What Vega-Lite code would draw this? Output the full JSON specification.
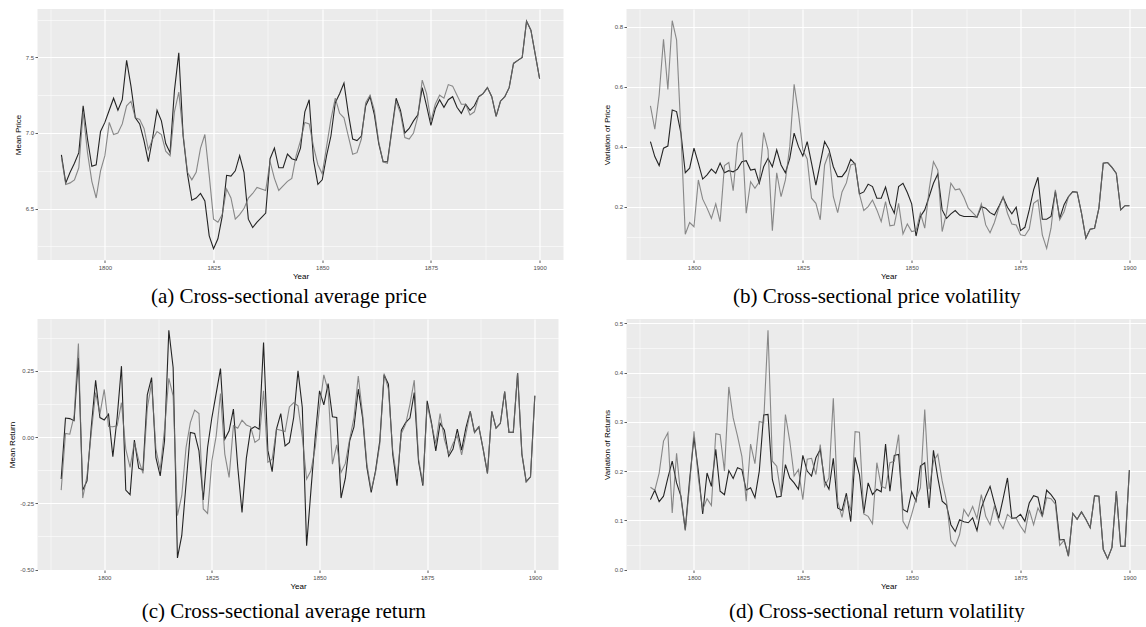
{
"$schema": "https://vega.github.io/schema/vega-lite/v6.json",
"background": "white",
"padding": {"left": 8.5, "top": 9, "right": 0, "bottom": 0},
"config": {
  "view": {"fill": "#EBEBEB", "stroke": null},
  "axis": {"domain": false, "minExtent": 0, "labelFont": "Liberation Sans", "labelFontSize": 6, "labelColor": "#4D4D4D", "tickColor": "#333333", "tickSize": 2.5, "tickWidth": 0.8, "labelPadding": 1.5, "titleFont": "Liberation Sans", "titleFontSize": 8, "titleFontWeight": "normal", "titleColor": "#000000", "gridColor": "#FFFFFF", "gridWidth": 1.1, "gridOpacity": 1},
  "axisX": {"titlePadding": 2},
  "axisY": {"titlePadding": 3},
  "title": {"orient": "bottom", "anchor": "middle", "frame": "bounds", "font": "Liberation Serif", "fontSize": 21, "fontWeight": "normal", "color": "#000000", "offset": 6}
},
"data": {"values": [
{"Year":1790,"s":"A","p":6.855,"pv":0.418,"r":-0.158,"rv":0.142},{"Year":1790,"s":"B","p":6.84,"pv":0.537,"r":-0.20,"rv":0.167},
{"Year":1791,"s":"A","p":6.67,"pv":0.368,"r":0.072,"rv":0.161},{"Year":1791,"s":"B","p":6.66,"pv":0.459,"r":0.014,"rv":0.161},
{"Year":1792,"s":"A","p":6.74,"pv":0.338,"r":0.07,"rv":0.138},{"Year":1792,"s":"B","p":6.67,"pv":0.573,"r":0.011,"rv":0.196},
{"Year":1793,"s":"A","p":6.80,"pv":0.396,"r":0.062,"rv":0.149},{"Year":1793,"s":"B","p":6.69,"pv":0.759,"r":0.08,"rv":0.261},
{"Year":1794,"s":"A","p":6.87,"pv":0.403,"r":0.30,"rv":0.186},{"Year":1794,"s":"B","p":6.77,"pv":0.592,"r":0.353,"rv":0.278},
{"Year":1795,"s":"A","p":7.18,"pv":0.523,"r":-0.20,"rv":0.22},{"Year":1795,"s":"B","p":7.14,"pv":0.821,"r":-0.23,"rv":0.115},
{"Year":1796,"s":"A","p":6.96,"pv":0.518,"r":-0.165,"rv":0.176},{"Year":1796,"s":"B","p":6.87,"pv":0.757,"r":-0.146,"rv":0.236},
{"Year":1797,"s":"A","p":6.78,"pv":0.446,"r":0.04,"rv":0.149},{"Year":1797,"s":"B","p":6.68,"pv":0.45,"r":0.018,"rv":0.146},
{"Year":1798,"s":"A","p":6.79,"pv":0.314,"r":0.215,"rv":0.081},{"Year":1798,"s":"B","p":6.57,"pv":0.109,"r":0.168,"rv":0.079},
{"Year":1799,"s":"A","p":7.01,"pv":0.329,"r":0.074,"rv":0.183},{"Year":1799,"s":"B","p":6.75,"pv":0.148,"r":0.087,"rv":0.173},
{"Year":1800,"s":"A","p":7.07,"pv":0.396,"r":0.065,"rv":0.268},{"Year":1800,"s":"B","p":6.85,"pv":0.134,"r":0.18,"rv":0.281},
{"Year":1801,"s":"A","p":7.15,"pv":0.346,"r":0.087,"rv":0.2},{"Year":1801,"s":"B","p":7.07,"pv":0.29,"r":0.04,"rv":0.186},
{"Year":1802,"s":"A","p":7.23,"pv":0.293,"r":-0.074,"rv":0.113},{"Year":1802,"s":"B","p":6.99,"pv":0.226,"r":0.039,"rv":0.122},
{"Year":1803,"s":"A","p":7.15,"pv":0.307,"r":0.074,"rv":0.196},{"Year":1803,"s":"B","p":7.00,"pv":0.196,"r":0.043,"rv":0.144},
{"Year":1804,"s":"A","p":7.22,"pv":0.326,"r":0.268,"rv":0.169},{"Year":1804,"s":"B","p":7.06,"pv":0.162,"r":0.13,"rv":0.13},
{"Year":1805,"s":"A","p":7.48,"pv":0.312,"r":-0.20,"rv":0.244},{"Year":1805,"s":"B","p":7.18,"pv":0.21,"r":-0.045,"rv":0.276},
{"Year":1806,"s":"A","p":7.31,"pv":0.346,"r":-0.217,"rv":0.159},{"Year":1806,"s":"B","p":7.21,"pv":0.151,"r":-0.114,"rv":0.274},
{"Year":1807,"s":"A","p":7.10,"pv":0.314,"r":-0.011,"rv":0.152},{"Year":1807,"s":"B","p":7.10,"pv":0.338,"r":-0.02,"rv":0.2},
{"Year":1808,"s":"A","p":7.06,"pv":0.321,"r":-0.117,"rv":0.201},{"Year":1808,"s":"B","p":7.09,"pv":0.348,"r":-0.087,"rv":0.371},
{"Year":1809,"s":"A","p":6.95,"pv":0.317,"r":-0.124,"rv":0.185},{"Year":1809,"s":"B","p":7.03,"pv":0.254,"r":-0.137,"rv":0.308},
{"Year":1810,"s":"A","p":6.81,"pv":0.326,"r":0.16,"rv":0.207},{"Year":1810,"s":"B","p":6.89,"pv":0.412,"r":0.109,"rv":0.271},
{"Year":1811,"s":"A","p":6.97,"pv":0.351,"r":0.225,"rv":0.203},{"Year":1811,"s":"B","p":6.96,"pv":0.448,"r":0.206,"rv":0.23},
{"Year":1812,"s":"A","p":7.15,"pv":0.354,"r":-0.077,"rv":0.161},{"Year":1812,"s":"B","p":7.01,"pv":0.179,"r":-0.045,"rv":0.139},
{"Year":1813,"s":"A","p":7.08,"pv":0.323,"r":-0.146,"rv":0.166},{"Year":1813,"s":"B","p":6.99,"pv":0.284,"r":-0.124,"rv":0.255},
{"Year":1814,"s":"A","p":6.93,"pv":0.326,"r":-0.014,"rv":0.146},{"Year":1814,"s":"B","p":6.88,"pv":0.262,"r":0.03,"rv":0.215},
{"Year":1815,"s":"A","p":6.87,"pv":0.279,"r":0.403,"rv":0.2},{"Year":1815,"s":"B","p":6.85,"pv":0.284,"r":0.222,"rv":0.301},
{"Year":1816,"s":"A","p":7.28,"pv":0.334,"r":0.263,"rv":0.314},{"Year":1816,"s":"B","p":7.14,"pv":0.448,"r":0.156,"rv":0.298},
{"Year":1817,"s":"A","p":7.53,"pv":0.362,"r":-0.456,"rv":0.315},{"Year":1817,"s":"B","p":7.27,"pv":0.39,"r":-0.296,"rv":0.486},
{"Year":1818,"s":"A","p":6.98,"pv":0.334,"r":-0.372,"rv":0.183},{"Year":1818,"s":"B","p":6.99,"pv":0.121,"r":-0.221,"rv":0.22},
{"Year":1819,"s":"A","p":6.73,"pv":0.39,"r":-0.177,"rv":0.147},{"Year":1819,"s":"B","p":6.74,"pv":0.314,"r":-0.039,"rv":0.21},
{"Year":1820,"s":"A","p":6.555,"pv":0.34,"r":0.018,"rv":0.149},{"Year":1820,"s":"B","p":6.69,"pv":0.234,"r":0.055,"rv":0.152},
{"Year":1821,"s":"A","p":6.57,"pv":0.314,"r":0.014,"rv":0.213},{"Year":1821,"s":"B","p":6.74,"pv":0.29,"r":0.102,"rv":0.315},
{"Year":1822,"s":"A","p":6.60,"pv":0.362,"r":-0.052,"rv":0.186},{"Year":1822,"s":"B","p":6.90,"pv":0.401,"r":0.089,"rv":0.261},
{"Year":1823,"s":"A","p":6.55,"pv":0.446,"r":-0.237,"rv":0.176},{"Year":1823,"s":"B","p":6.99,"pv":0.609,"r":-0.271,"rv":0.19},
{"Year":1824,"s":"A","p":6.32,"pv":0.401,"r":-0.039,"rv":0.163},{"Year":1824,"s":"B","p":6.72,"pv":0.512,"r":-0.288,"rv":0.203},
{"Year":1825,"s":"A","p":6.235,"pv":0.37,"r":0.074,"rv":0.232},{"Year":1825,"s":"B","p":6.43,"pv":0.39,"r":-0.089,"rv":0.142},
{"Year":1826,"s":"A","p":6.30,"pv":0.418,"r":0.165,"rv":0.2},{"Year":1826,"s":"B","p":6.41,"pv":0.36,"r":0.005,"rv":0.224},
{"Year":1827,"s":"A","p":6.45,"pv":0.346,"r":0.259,"rv":0.19},{"Year":1827,"s":"B","p":6.46,"pv":0.229,"r":0.165,"rv":0.226},
{"Year":1828,"s":"A","p":6.72,"pv":0.273,"r":-0.008,"rv":0.227},{"Year":1828,"s":"B","p":6.63,"pv":0.212,"r":-0.064,"rv":0.193},
{"Year":1829,"s":"A","p":6.715,"pv":0.346,"r":0.024,"rv":0.244},{"Year":1829,"s":"B","p":6.57,"pv":0.157,"r":-0.152,"rv":0.254},
{"Year":1830,"s":"A","p":6.75,"pv":0.418,"r":0.106,"rv":0.18},{"Year":1830,"s":"B","p":6.43,"pv":0.34,"r":0.043,"rv":0.169},
{"Year":1831,"s":"A","p":6.85,"pv":0.392,"r":-0.112,"rv":0.163},{"Year":1831,"s":"B","p":6.46,"pv":0.38,"r":0.034,"rv":0.186},
{"Year":1832,"s":"A","p":6.74,"pv":0.334,"r":-0.284,"rv":0.226},{"Year":1832,"s":"B","p":6.50,"pv":0.234,"r":0.064,"rv":0.348},
{"Year":1833,"s":"A","p":6.43,"pv":0.301,"r":-0.08,"rv":0.125},{"Year":1833,"s":"B","p":6.57,"pv":0.181,"r":0.046,"rv":0.139},
{"Year":1834,"s":"A","p":6.375,"pv":0.301,"r":0.03,"rv":0.12},{"Year":1834,"s":"B","p":6.60,"pv":0.25,"r":0.039,"rv":0.106},
{"Year":1835,"s":"A","p":6.41,"pv":0.321,"r":0.04,"rv":0.155},{"Year":1835,"s":"B","p":6.64,"pv":0.28,"r":-0.02,"rv":0.149},
{"Year":1836,"s":"A","p":6.44,"pv":0.359,"r":0.03,"rv":0.097},{"Year":1836,"s":"B","p":6.63,"pv":0.34,"r":-0.008,"rv":0.119},
{"Year":1837,"s":"A","p":6.47,"pv":0.343,"r":0.357,"rv":0.228},{"Year":1837,"s":"B","p":6.62,"pv":0.345,"r":0.175,"rv":0.28},
{"Year":1838,"s":"A","p":6.83,"pv":0.243,"r":-0.05,"rv":0.193},{"Year":1838,"s":"B","p":6.81,"pv":0.243,"r":-0.095,"rv":0.279},
{"Year":1839,"s":"A","p":6.90,"pv":0.25,"r":-0.13,"rv":0.115},{"Year":1839,"s":"B","p":6.70,"pv":0.188,"r":-0.083,"rv":0.113},
{"Year":1840,"s":"A","p":6.77,"pv":0.276,"r":0.03,"rv":0.176},{"Year":1840,"s":"B","p":6.62,"pv":0.201,"r":0.03,"rv":0.108},
{"Year":1841,"s":"A","p":6.77,"pv":0.268,"r":0.089,"rv":0.152},{"Year":1841,"s":"B","p":6.65,"pv":0.223,"r":0.026,"rv":0.093},
{"Year":1842,"s":"A","p":6.86,"pv":0.229,"r":-0.033,"rv":0.163},{"Year":1842,"s":"B","p":6.68,"pv":0.19,"r":0.021,"rv":0.217},
{"Year":1843,"s":"A","p":6.83,"pv":0.229,"r":-0.02,"rv":0.158},{"Year":1843,"s":"B","p":6.70,"pv":0.151,"r":0.114,"rv":0.169},
{"Year":1844,"s":"A","p":6.82,"pv":0.266,"r":0.074,"rv":0.255},{"Year":1844,"s":"B","p":6.85,"pv":0.218,"r":0.13,"rv":0.165},
{"Year":1845,"s":"A","p":6.90,"pv":0.21,"r":0.25,"rv":0.159},{"Year":1845,"s":"B","p":6.95,"pv":0.137,"r":0.118,"rv":0.217},
{"Year":1846,"s":"A","p":7.14,"pv":0.179,"r":0.112,"rv":0.232},{"Year":1846,"s":"B","p":7.07,"pv":0.14,"r":0.0,"rv":0.22},
{"Year":1847,"s":"A","p":7.22,"pv":0.268,"r":-0.41,"rv":0.234},{"Year":1847,"s":"B","p":7.06,"pv":0.212,"r":-0.158,"rv":0.274},
{"Year":1848,"s":"A","p":6.82,"pv":0.279,"r":-0.202,"rv":0.122},{"Year":1848,"s":"B","p":6.91,"pv":0.11,"r":-0.127,"rv":0.098},
{"Year":1849,"s":"A","p":6.66,"pv":0.248,"r":0.0,"rv":0.117},{"Year":1849,"s":"B","p":6.79,"pv":0.143,"r":-0.039,"rv":0.083},
{"Year":1850,"s":"A","p":6.69,"pv":0.21,"r":0.175,"rv":0.158},{"Year":1850,"s":"B","p":6.73,"pv":0.118,"r":0.112,"rv":0.112},
{"Year":1851,"s":"A","p":6.85,"pv":0.103,"r":0.122,"rv":0.139},{"Year":1851,"s":"B","p":6.91,"pv":0.121,"r":0.235,"rv":0.144},
{"Year":1852,"s":"A","p":6.98,"pv":0.168,"r":0.202,"rv":0.21},{"Year":1852,"s":"B","p":7.09,"pv":0.179,"r":0.175,"rv":0.166},
{"Year":1853,"s":"A","p":7.20,"pv":0.19,"r":0.077,"rv":0.217},{"Year":1853,"s":"B","p":7.23,"pv":0.129,"r":-0.102,"rv":0.325},
{"Year":1854,"s":"A","p":7.26,"pv":0.234,"r":0.074,"rv":0.125},{"Year":1854,"s":"B","p":7.13,"pv":0.257,"r":-0.029,"rv":0.163},
{"Year":1855,"s":"A","p":7.33,"pv":0.279,"r":-0.23,"rv":0.242},{"Year":1855,"s":"B","p":7.10,"pv":0.351,"r":-0.133,"rv":0.22},
{"Year":1856,"s":"A","p":7.13,"pv":0.31,"r":-0.155,"rv":0.186},{"Year":1856,"s":"B","p":6.98,"pv":0.323,"r":-0.099,"rv":0.234},
{"Year":1857,"s":"A","p":6.96,"pv":0.19,"r":-0.014,"rv":0.139},{"Year":1857,"s":"B","p":6.86,"pv":0.118,"r":-0.008,"rv":0.18},
{"Year":1858,"s":"A","p":6.95,"pv":0.162,"r":0.039,"rv":0.131},{"Year":1858,"s":"B","p":6.87,"pv":0.179,"r":0.074,"rv":0.139},
{"Year":1859,"s":"A","p":6.98,"pv":0.177,"r":0.181,"rv":0.091},{"Year":1859,"s":"B","p":6.96,"pv":0.279,"r":0.231,"rv":0.059},
{"Year":1860,"s":"A","p":7.18,"pv":0.188,"r":0.074,"rv":0.077},{"Year":1860,"s":"B","p":7.20,"pv":0.257,"r":0.087,"rv":0.047},
{"Year":1861,"s":"A","p":7.24,"pv":0.173,"r":-0.114,"rv":0.101},{"Year":1861,"s":"B","p":7.25,"pv":0.26,"r":-0.102,"rv":0.071},
{"Year":1862,"s":"A","p":7.12,"pv":0.168,"r":-0.209,"rv":0.097},{"Year":1862,"s":"B","p":7.15,"pv":0.232,"r":-0.2,"rv":0.122},
{"Year":1863,"s":"A","p":6.93,"pv":0.168,"r":-0.127,"rv":0.095},{"Year":1863,"s":"B","p":6.94,"pv":0.196,"r":-0.133,"rv":0.108},
{"Year":1864,"s":"A","p":6.81,"pv":0.168,"r":-0.014,"rv":0.105},{"Year":1864,"s":"B","p":6.81,"pv":0.181,"r":-0.026,"rv":0.128},
{"Year":1865,"s":"A","p":6.81,"pv":0.166,"r":0.235,"rv":0.079},{"Year":1865,"s":"B","p":6.80,"pv":0.166,"r":0.24,"rv":0.104},
{"Year":1866,"s":"A","p":7.02,"pv":0.201,"r":0.2,"rv":0.125},{"Year":1866,"s":"B","p":7.01,"pv":0.21,"r":0.181,"rv":0.152},
{"Year":1867,"s":"A","p":7.23,"pv":0.196,"r":-0.064,"rv":0.149},{"Year":1867,"s":"B","p":7.21,"pv":0.14,"r":-0.052,"rv":0.108},
{"Year":1868,"s":"A","p":7.15,"pv":0.181,"r":-0.183,"rv":0.169},{"Year":1868,"s":"B","p":7.13,"pv":0.114,"r":-0.158,"rv":0.091},
{"Year":1869,"s":"A","p":7.00,"pv":0.173,"r":0.026,"rv":0.135},{"Year":1869,"s":"B","p":6.97,"pv":0.148,"r":0.014,"rv":0.129},
{"Year":1870,"s":"A","p":7.03,"pv":0.201,"r":0.055,"rv":0.104},{"Year":1870,"s":"B","p":6.96,"pv":0.196,"r":0.049,"rv":0.098},
{"Year":1871,"s":"A","p":7.08,"pv":0.232,"r":0.072,"rv":0.144},{"Year":1871,"s":"B","p":7.00,"pv":0.234,"r":0.124,"rv":0.083},
{"Year":1872,"s":"A","p":7.12,"pv":0.199,"r":0.168,"rv":0.186},{"Year":1872,"s":"B","p":7.11,"pv":0.179,"r":0.215,"rv":0.112},
{"Year":1873,"s":"A","p":7.30,"pv":0.177,"r":-0.092,"rv":0.104},{"Year":1873,"s":"B","p":7.35,"pv":0.143,"r":-0.083,"rv":0.104},
{"Year":1874,"s":"A","p":7.18,"pv":0.199,"r":-0.183,"rv":0.105},{"Year":1874,"s":"B","p":7.26,"pv":0.14,"r":-0.177,"rv":0.104},
{"Year":1875,"s":"A","p":7.05,"pv":0.121,"r":0.137,"rv":0.112},{"Year":1875,"s":"B","p":7.08,"pv":0.107,"r":0.124,"rv":0.088},
{"Year":1876,"s":"A","p":7.16,"pv":0.132,"r":0.055,"rv":0.098},{"Year":1876,"s":"B","p":7.19,"pv":0.104,"r":0.049,"rv":0.075},
{"Year":1877,"s":"A","p":7.22,"pv":0.19,"r":-0.052,"rv":0.135},{"Year":1877,"s":"B","p":7.25,"pv":0.126,"r":-0.024,"rv":0.121},
{"Year":1878,"s":"A","p":7.17,"pv":0.257,"r":0.052,"rv":0.15},{"Year":1878,"s":"B","p":7.23,"pv":0.212,"r":0.089,"rv":0.091},
{"Year":1879,"s":"A","p":7.22,"pv":0.299,"r":0.026,"rv":0.147},{"Year":1879,"s":"B","p":7.32,"pv":0.223,"r":-0.008,"rv":0.125},
{"Year":1880,"s":"A","p":7.24,"pv":0.159,"r":-0.072,"rv":0.108},{"Year":1880,"s":"B","p":7.31,"pv":0.107,"r":-0.064,"rv":0.108},
{"Year":1881,"s":"A","p":7.17,"pv":0.159,"r":-0.045,"rv":0.161},{"Year":1881,"s":"B","p":7.25,"pv":0.062,"r":-0.024,"rv":0.146},
{"Year":1882,"s":"A","p":7.13,"pv":0.168,"r":0.03,"rv":0.152},{"Year":1882,"s":"B","p":7.19,"pv":0.129,"r":0.005,"rv":0.144},
{"Year":1883,"s":"A","p":7.19,"pv":0.251,"r":-0.049,"rv":0.14},{"Year":1883,"s":"B","p":7.19,"pv":0.257,"r":-0.067,"rv":0.133},
{"Year":1884,"s":"A","p":7.15,"pv":0.162,"r":0.036,"rv":0.06},{"Year":1884,"s":"B","p":7.12,"pv":0.157,"r":0.011,"rv":0.049},
{"Year":1885,"s":"A","p":7.18,"pv":0.207,"r":0.097,"rv":0.061},{"Year":1885,"s":"B","p":7.14,"pv":0.184,"r":0.097,"rv":0.059},
{"Year":1886,"s":"A","p":7.24,"pv":0.234,"r":0.018,"rv":0.027},{"Year":1886,"s":"B","p":7.24,"pv":0.234,"r":0.018,"rv":0.027},
{"Year":1887,"s":"A","p":7.26,"pv":0.251,"r":0.039,"rv":0.114},{"Year":1887,"s":"B","p":7.26,"pv":0.251,"r":0.039,"rv":0.114},
{"Year":1888,"s":"A","p":7.30,"pv":0.249,"r":-0.045,"rv":0.102},{"Year":1888,"s":"B","p":7.30,"pv":0.249,"r":-0.045,"rv":0.102},
{"Year":1889,"s":"A","p":7.24,"pv":0.179,"r":-0.137,"rv":0.117},{"Year":1889,"s":"B","p":7.24,"pv":0.179,"r":-0.137,"rv":0.117},
{"Year":1890,"s":"A","p":7.11,"pv":0.096,"r":0.097,"rv":0.102},{"Year":1890,"s":"B","p":7.11,"pv":0.096,"r":0.097,"rv":0.102},
{"Year":1891,"s":"A","p":7.21,"pv":0.126,"r":0.034,"rv":0.085},{"Year":1891,"s":"B","p":7.21,"pv":0.126,"r":0.034,"rv":0.085},
{"Year":1892,"s":"A","p":7.24,"pv":0.129,"r":0.052,"rv":0.15},{"Year":1892,"s":"B","p":7.24,"pv":0.129,"r":0.052,"rv":0.15},
{"Year":1893,"s":"A","p":7.30,"pv":0.196,"r":0.172,"rv":0.149},{"Year":1893,"s":"B","p":7.30,"pv":0.196,"r":0.172,"rv":0.149},
{"Year":1894,"s":"A","p":7.46,"pv":0.346,"r":0.018,"rv":0.041},{"Year":1894,"s":"B","p":7.46,"pv":0.346,"r":0.018,"rv":0.041},
{"Year":1895,"s":"A","p":7.48,"pv":0.348,"r":0.018,"rv":0.022},{"Year":1895,"s":"B","p":7.48,"pv":0.348,"r":0.018,"rv":0.022},
{"Year":1896,"s":"A","p":7.50,"pv":0.332,"r":0.242,"rv":0.045},{"Year":1896,"s":"B","p":7.50,"pv":0.332,"r":0.242,"rv":0.045},
{"Year":1897,"s":"A","p":7.74,"pv":0.312,"r":-0.064,"rv":0.159},{"Year":1897,"s":"B","p":7.74,"pv":0.312,"r":-0.064,"rv":0.159},
{"Year":1898,"s":"A","p":7.68,"pv":0.19,"r":-0.168,"rv":0.047},{"Year":1898,"s":"B","p":7.68,"pv":0.19,"r":-0.168,"rv":0.047},
{"Year":1899,"s":"A","p":7.52,"pv":0.204,"r":-0.15,"rv":0.047},{"Year":1899,"s":"B","p":7.52,"pv":0.204,"r":-0.15,"rv":0.047},
{"Year":1900,"s":"A","p":7.36,"pv":0.204,"r":0.156,"rv":0.202},{"Year":1900,"s":"B","p":7.36,"pv":0.204,"r":0.156,"rv":0.202}
]},
"columns": 2,
"spacing": {"row": 12, "column": 39},
"concat": [
  {"width": 526, "height": 251,
   "title": {"text": "(a) Cross-sectional average price"},
   "layer": [
    {"transform": [{"filter": "datum.s === 'A'"}],
     "mark": {"type": "line", "color": "#000000", "opacity": 0.85, "strokeWidth": 1.1},
     "encoding": {
      "x": {"field": "Year", "type": "quantitative", "scale": {"domain": [1784.5, 1905.5], "nice": false, "zero": false}, "axis": {"values": [1800, 1825, 1850, 1875, 1900], "format": "d", "title": "Year", "grid": true}},
      "y": {"field": "p", "type": "quantitative", "scale": {"domain": [6.16, 7.82], "nice": false, "zero": false}, "axis": {"values": [6.5, 7.0, 7.5], "format": ".1f", "title": "Mean Price", "grid": true}}}},
    {"transform": [{"filter": "datum.s === 'B'"}],
     "mark": {"type": "line", "color": "#6e6e6e", "opacity": 0.8, "strokeWidth": 1.1},
     "encoding": {
      "x": {"field": "Year", "type": "quantitative", "axis": {"orient": "top", "values": [1787.5, 1812.5, 1837.5, 1862.5, 1887.5], "labels": false, "ticks": false, "domain": false, "title": null, "grid": true, "gridWidth": 0.55}},
      "y": {"field": "p", "type": "quantitative", "axis": {"orient": "right", "values": [6.25, 6.75, 7.25, 7.75], "labels": false, "ticks": false, "domain": false, "title": null, "grid": true, "gridWidth": 0.55}}}}
   ],
   "resolve": {"axis": {"x": "independent", "y": "independent"}}},
  {"width": 524, "height": 251,
   "title": {"text": "(b) Cross-sectional price volatility"},
   "layer": [
    {"transform": [{"filter": "datum.s === 'A'"}],
     "mark": {"type": "line", "color": "#000000", "opacity": 0.85, "strokeWidth": 1.1},
     "encoding": {
      "x": {"field": "Year", "type": "quantitative", "scale": {"domain": [1784.5, 1904.85], "nice": false, "zero": false}, "axis": {"values": [1800, 1825, 1850, 1875, 1900], "format": "d", "title": "Year", "grid": true}},
      "y": {"field": "pv", "type": "quantitative", "scale": {"domain": [0.023, 0.86], "nice": false, "zero": false}, "axis": {"values": [0.2, 0.4, 0.6, 0.8], "format": ".1f", "title": "Variation of Price", "grid": true}}}},
    {"transform": [{"filter": "datum.s === 'B'"}],
     "mark": {"type": "line", "color": "#6e6e6e", "opacity": 0.8, "strokeWidth": 1.1},
     "encoding": {
      "x": {"field": "Year", "type": "quantitative", "axis": {"orient": "top", "values": [1787.5, 1812.5, 1837.5, 1862.5, 1887.5], "labels": false, "ticks": false, "domain": false, "title": null, "grid": true, "gridWidth": 0.55}},
      "y": {"field": "pv", "type": "quantitative", "axis": {"orient": "right", "values": [0.1, 0.3, 0.5, 0.7], "labels": false, "ticks": false, "domain": false, "title": null, "grid": true, "gridWidth": 0.55}}}}
   ],
   "resolve": {"axis": {"x": "independent", "y": "independent"}}},
  {"width": 521, "height": 251,
   "title": {"text": "(c) Cross-sectional average return", "offset": 11},
   "layer": [
    {"transform": [{"filter": "datum.s === 'A'"}],
     "mark": {"type": "line", "color": "#000000", "opacity": 0.85, "strokeWidth": 1.1},
     "encoding": {
      "x": {"field": "Year", "type": "quantitative", "scale": {"domain": [1784.5, 1905.5], "nice": false, "zero": false}, "axis": {"values": [1800, 1825, 1850, 1875, 1900], "format": "d", "title": "Year", "grid": true}},
      "y": {"field": "r", "type": "quantitative", "scale": {"domain": [-0.5015, 0.446], "nice": false, "zero": false}, "axis": {"values": [-0.5, -0.25, 0, 0.25], "format": ".2f", "labelExpr": "replace(datum.label, '\u2212', '-')", "title": "Mean Return", "grid": true}}}},
    {"transform": [{"filter": "datum.s === 'B'"}],
     "mark": {"type": "line", "color": "#6e6e6e", "opacity": 0.8, "strokeWidth": 1.1},
     "encoding": {
      "x": {"field": "Year", "type": "quantitative", "axis": {"orient": "top", "values": [1787.5, 1812.5, 1837.5, 1862.5, 1887.5], "labels": false, "ticks": false, "domain": false, "title": null, "grid": true, "gridWidth": 0.55}},
      "y": {"field": "r", "type": "quantitative", "axis": {"orient": "right", "values": [-0.375, -0.125, 0.125, 0.375], "labels": false, "ticks": false, "domain": false, "title": null, "grid": true, "gridWidth": 0.55}}}}
   ],
   "resolve": {"axis": {"x": "independent", "y": "independent"}}},
  {"width": 524, "height": 251,
   "title": {"text": "(d) Cross-sectional return volatility", "offset": 11},
   "layer": [
    {"transform": [{"filter": "datum.s === 'A'"}],
     "mark": {"type": "line", "color": "#000000", "opacity": 0.85, "strokeWidth": 1.1},
     "encoding": {
      "x": {"field": "Year", "type": "quantitative", "scale": {"domain": [1784.5, 1904.85], "nice": false, "zero": false}, "axis": {"values": [1800, 1825, 1850, 1875, 1900], "format": "d", "title": "Year", "grid": true}},
      "y": {"field": "rv", "type": "quantitative", "scale": {"domain": [-0.001, 0.509], "nice": false, "zero": false}, "axis": {"values": [0, 0.1, 0.2, 0.3, 0.4, 0.5], "format": ".1f", "title": "Variation of Returns", "grid": true}}}},
    {"transform": [{"filter": "datum.s === 'B'"}],
     "mark": {"type": "line", "color": "#6e6e6e", "opacity": 0.8, "strokeWidth": 1.1},
     "encoding": {
      "x": {"field": "Year", "type": "quantitative", "axis": {"orient": "top", "values": [1787.5, 1812.5, 1837.5, 1862.5, 1887.5], "labels": false, "ticks": false, "domain": false, "title": null, "grid": true, "gridWidth": 0.55}},
      "y": {"field": "rv", "type": "quantitative", "axis": {"orient": "right", "values": [0.05, 0.15, 0.25, 0.35, 0.45], "labels": false, "ticks": false, "domain": false, "title": null, "grid": true, "gridWidth": 0.55}}}}
   ],
   "resolve": {"axis": {"x": "independent", "y": "independent"}}}
]
}
